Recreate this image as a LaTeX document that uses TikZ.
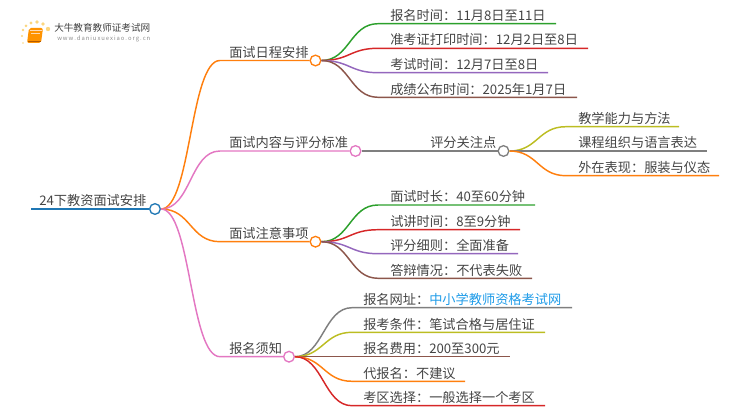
\documentclass[tikz,border=0pt]{standalone}
\usepackage{fontspec}
\setmainfont{Noto Sans CJK SC}
\usetikzlibrary{calc}
\definecolor{tabblue}{HTML}{1F77B4}
\definecolor{taborange}{HTML}{FF7F0E}
\definecolor{tabpink}{HTML}{E377C2}
\definecolor{tabgreen}{HTML}{2CA02C}
\definecolor{tabred}{HTML}{D62728}
\definecolor{tabpurple}{HTML}{9467BD}
\definecolor{tabbrown}{HTML}{8C564B}
\definecolor{tabgrey}{HTML}{7F7F7F}
\definecolor{tabolive}{HTML}{BCBD22}
\definecolor{inktext}{HTML}{444444}
\definecolor{linkblue}{HTML}{1E9BE8}
\definecolor{sundot}{HTML}{FBD680}
\tikzset{
    x=0.75pt,y=-0.75pt,
    hub/.style={circle,draw,fill=white,line width=1pt,minimum size=8pt,inner sep=0pt},
    limb/.style={line width=1.1pt},
    label/.style={anchor=base west,inner sep=0pt,text=inktext,font=\fontsize{9.9pt}{12pt}\selectfont},
}
\begin{document}
\begin{tikzpicture}
    \useasboundingbox (0,0) rectangle (750,410);
    % logo
    \foreach \i/\j/\r in {23/30/1.3,26/26/1.5,31/23/1.6,37/22/1.8,43/24/1.9,48/29/2.2,22/36/1.1,23/43/0.9}{
        \fill[sundot] (\i,\j) circle (\r);
    }
    \fill[orange!85!yellow,rounded corners=1.5pt] (29,28) -- (43,28) -- (41,43) -- (27,43) -- cycle;
    \draw[orange!30!white,line width=0.5pt] (30,30) -- (42,30) (31,33) -- (40,33);
    \draw[orange!70!black,line width=0.5pt] (28,41) -- (41,41);
    \node[label,text=black!75,font=\fontsize{7.2pt}{9pt}\selectfont] (logotitle) at (54,31.5) {大牛教育教师证考试网};
    \node[label,text=black!45,font=\fontsize{4.4pt}{6pt}\selectfont] (logourl) at (57,41) {w\,w\,w\,.\,d\,a\,n\,i\,u\,x\,u\,e\,x\,i\,a\,o\,.\,o\,r\,g\,.\,c\,n};
    % root
    \node[hub,draw=tabblue] (root) at (155,209) {};
    \coordinate (rootend) at (31,209);
    \draw[limb,tabblue] (rootend) -- (root);
    \node[label] (roottext) at (39,205.7) {24下教资面试安排};
    % main branches
    \foreach \name/\yy/\xx/\tint/\txt in {
        sched/60.5/315.5/taborange/面试日程安排,
        content/151/355.5/tabpink/面试内容与评分标准,
        notes/241.7/315.5/taborange/面试注意事项,
        signup/356.7/289/tabpink/报名须知}{
        \node[hub,draw=\tint] (\name) at (\xx,\yy) {};
        \coordinate (\name-s) at (220,\yy);
        \draw[limb,\tint] (root.east) .. controls ($(root.east)+(30,0)$) and ($(\name-s)+(-30,0)$) .. (\name-s) -- (\name);
        \node[label] (\name-t) at (229,\yy-3.3) {\txt};
    }
    \node[hub,draw=tabgrey] (focus) at (503.5,151) {};
    \draw[limb,tabgrey] (content) -- (focus);
    \node[label] (focus-t) at (430,147.7) {评分关注点};
    % leaves
    \foreach \leaf/\yy/\xend/\tint/\txt in {
        a/23.7/556/tabgreen/报名时间：11月8日至11日,
        b/48.3/588/tabred/准考证打印时间：12月2日至8日,
        c/72.7/548/tabpurple/考试时间：12月7日至8日,
        d/97.3/577/tabbrown/成绩公布时间：2025年1月7日}{
        \coordinate (\leaf) at (378,\yy);
        \coordinate (\leaf-e) at (\xend,\yy);
        \draw[limb,\tint] (sched.east) .. controls ($(sched.east)+(28,0)$) and ($(\leaf)+(-28,0)$) .. (\leaf) -- (\leaf-e);
        \node[label] (\leaf-t) at (390,\yy-3.3) {\txt};
    }
    \foreach \leaf/\yy/\xend/\tint/\txt in {
        e/126.7/679/tabolive/教学能力与方法,
        f/151/707/tabgrey/课程组织与语言表达,
        g/175.7/719/taborange/外在表现：服装与仪态}{
        \coordinate (\leaf) at (566,\yy);
        \coordinate (\leaf-e) at (\xend,\yy);
        \draw[limb,\tint] (focus.east) .. controls ($(focus.east)+(28,0)$) and ($(\leaf)+(-28,0)$) .. (\leaf) -- (\leaf-e);
        \node[label] (\leaf-t) at (578,\yy-3.3) {\txt};
    }
    \foreach \leaf/\yy/\xend/\tint/\txt in {
        h/205/535/tabgreen/面试时长：40至60分钟,
        i/229.7/520/tabred/试讲时间：8至9分钟,
        j/253.7/518/tabpurple/评分细则：全面准备,
        k/278.3/532/tabbrown/答辩情况：不代表失败}{
        \coordinate (\leaf) at (378,\yy);
        \coordinate (\leaf-e) at (\xend,\yy);
        \draw[limb,\tint] (notes.east) .. controls ($(notes.east)+(28,0)$) and ($(\leaf)+(-28,0)$) .. (\leaf) -- (\leaf-e);
        \node[label] (\leaf-t) at (390,\yy-3.3) {\txt};
    }
    \foreach \leaf/\yy/\xend/\tint/\txt in {
        l/307.7/572/tabgrey/报名网址：\textcolor{linkblue}{中小学教师资格考试网},
        m/332.3/545/tabolive/报考条件：笔试合格与居住证,
        n/356.7/510/tabbrown/报名费用：200至300元,
        o/381.3/465/taborange/代报名：不建议,
        p/405.7/545/tabred/考区选择：一般选择一个考区}{
        \coordinate (\leaf) at (352,\yy);
        \coordinate (\leaf-e) at (\xend,\yy);
        \draw[limb,\tint] (signup.east) .. controls ($(signup.east)+(28,0)$) and ($(\leaf)+(-28,0)$) .. (\leaf) -- (\leaf-e);
        \node[label] (\leaf-t) at (363,\yy-3.3) {\txt};
    }
\end{tikzpicture}
\end{document}
